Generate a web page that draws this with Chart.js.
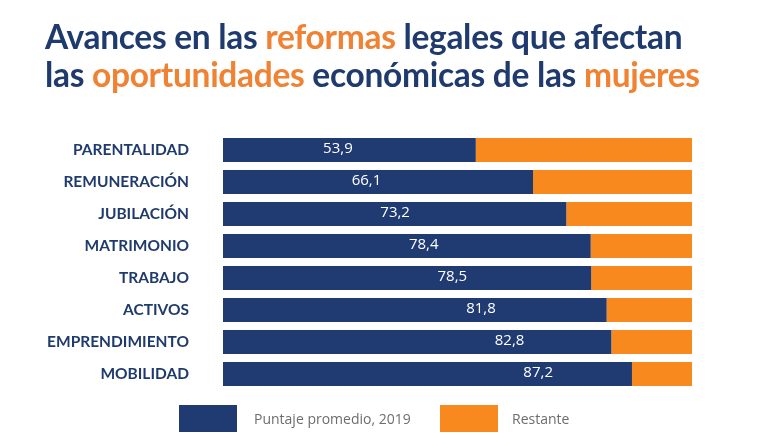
<!DOCTYPE html>
<html>
<head>
<meta charset="utf-8">
<script src="https://cdn.jsdelivr.net/npm/chart.js@4/dist/chart.umd.min.js"></script>
<style>
  html, body { margin: 0; padding: 0; background: #fff; }
  #wrap { position: relative; width: 780px; height: 439px; overflow: hidden; }
  #title { position: absolute; left: 45px; top: 17px; font: bold 33.5px Lato, sans-serif; line-height: 38px; color: #1f3a6d; white-space: nowrap; letter-spacing: -0.3px; }
  #title .o { color: #ef8233; }
  #chartBox { position: absolute; left: 0; top: 0; width: 780px; height: 439px; }
  .lg { position: absolute; font: 14px "Open Sans", sans-serif; color: #6d6d6d; line-height: 20px; }
  .sw { position: absolute; width: 58px; height: 27px; }
</style>
</head>
<body>
<div id="wrap">
  <div id="chartBox"><canvas id="myChart"></canvas></div>
  <div id="title">Avances en las <span class="o">reformas</span> legales que afectan<br>las <span class="o">oportunidades</span> económicas de las <span class="o">mujeres</span></div>
  <div class="sw" style="left:179px;top:405px;background:#203a72"></div>
  <div class="lg" id="lg1" style="left:254px;top:409px"></div>
  <div class="sw" style="left:440px;top:405px;background:#f7891f"></div>
  <div class="lg" id="lg2" style="left:512px;top:409px"></div>
</div>
<script>
const categories = ['PARENTALIDAD', 'REMUNERACIÓN', 'JUBILACIÓN', 'MATRIMONIO', 'TRABAJO', 'ACTIVOS', 'EMPRENDIMIENTO', 'MOBILIDAD'];
const puntaje = [53.9, 66.1, 73.2, 78.4, 78.5, 81.8, 82.8, 87.2];
const restante = puntaje.map(v => Math.round((100 - v) * 10) / 10);
const seriesNames = ['Puntaje promedio, 2019', 'Restante'];

document.getElementById('lg1').textContent = seriesNames[0];
document.getElementById('lg2').textContent = seriesNames[1];

// value labels sit on a diagonal inside the navy bars, like the original
const valueLabels = {
  id: 'valueLabels',
  afterDatasetsDraw(chart) {
    const ctx = chart.ctx;
    const x = chart.scales.x;
    const meta = chart.getDatasetMeta(0);
    ctx.save();
    ctx.fillStyle = '#ffffff';
    ctx.font = '15px "Open Sans", sans-serif';
    ctx.textAlign = 'center';
    ctx.textBaseline = 'middle';
    meta.data.forEach((bar, i) => {
      const px = x.getPixelForValue(24.5 + 6.1 * i);
      ctx.fillText(puntaje[i].toFixed(1).replace('.', ','), px, bar.y - 1);
    });
    ctx.restore();
  }
};

const ctx = document.getElementById('myChart').getContext('2d');
new Chart(ctx, {
  type: 'bar',
  data: {
    labels: categories,
    datasets: [
      { label: seriesNames[0], data: puntaje, backgroundColor: '#203a72' },
      { label: seriesNames[1], data: restante, backgroundColor: '#f7891f' }
    ]
  },
  options: {
    indexAxis: 'y',
    responsive: true,
    maintainAspectRatio: false,
    animation: false,
    layout: { padding: { top: 134, bottom: 49, right: 88, left: 0 } },
    datasets: { bar: { categoryPercentage: 1, barPercentage: 0.75, borderWidth: 0 } },
    scales: {
      x: { stacked: true, min: 0, max: 100, display: false },
      y: {
        stacked: true,
        grid: { display: false, drawTicks: false },
        border: { display: false },
        ticks: { padding: 34, color: '#1f3a6d', font: { family: 'Lato', weight: 'bold', size: 15.5 } },
        afterFit(scale) { scale.width = 223; }
      }
    },
    plugins: { legend: { display: false }, tooltip: { enabled: false } }
  },
  plugins: [valueLabels]
});
</script>
</body>
</html>
